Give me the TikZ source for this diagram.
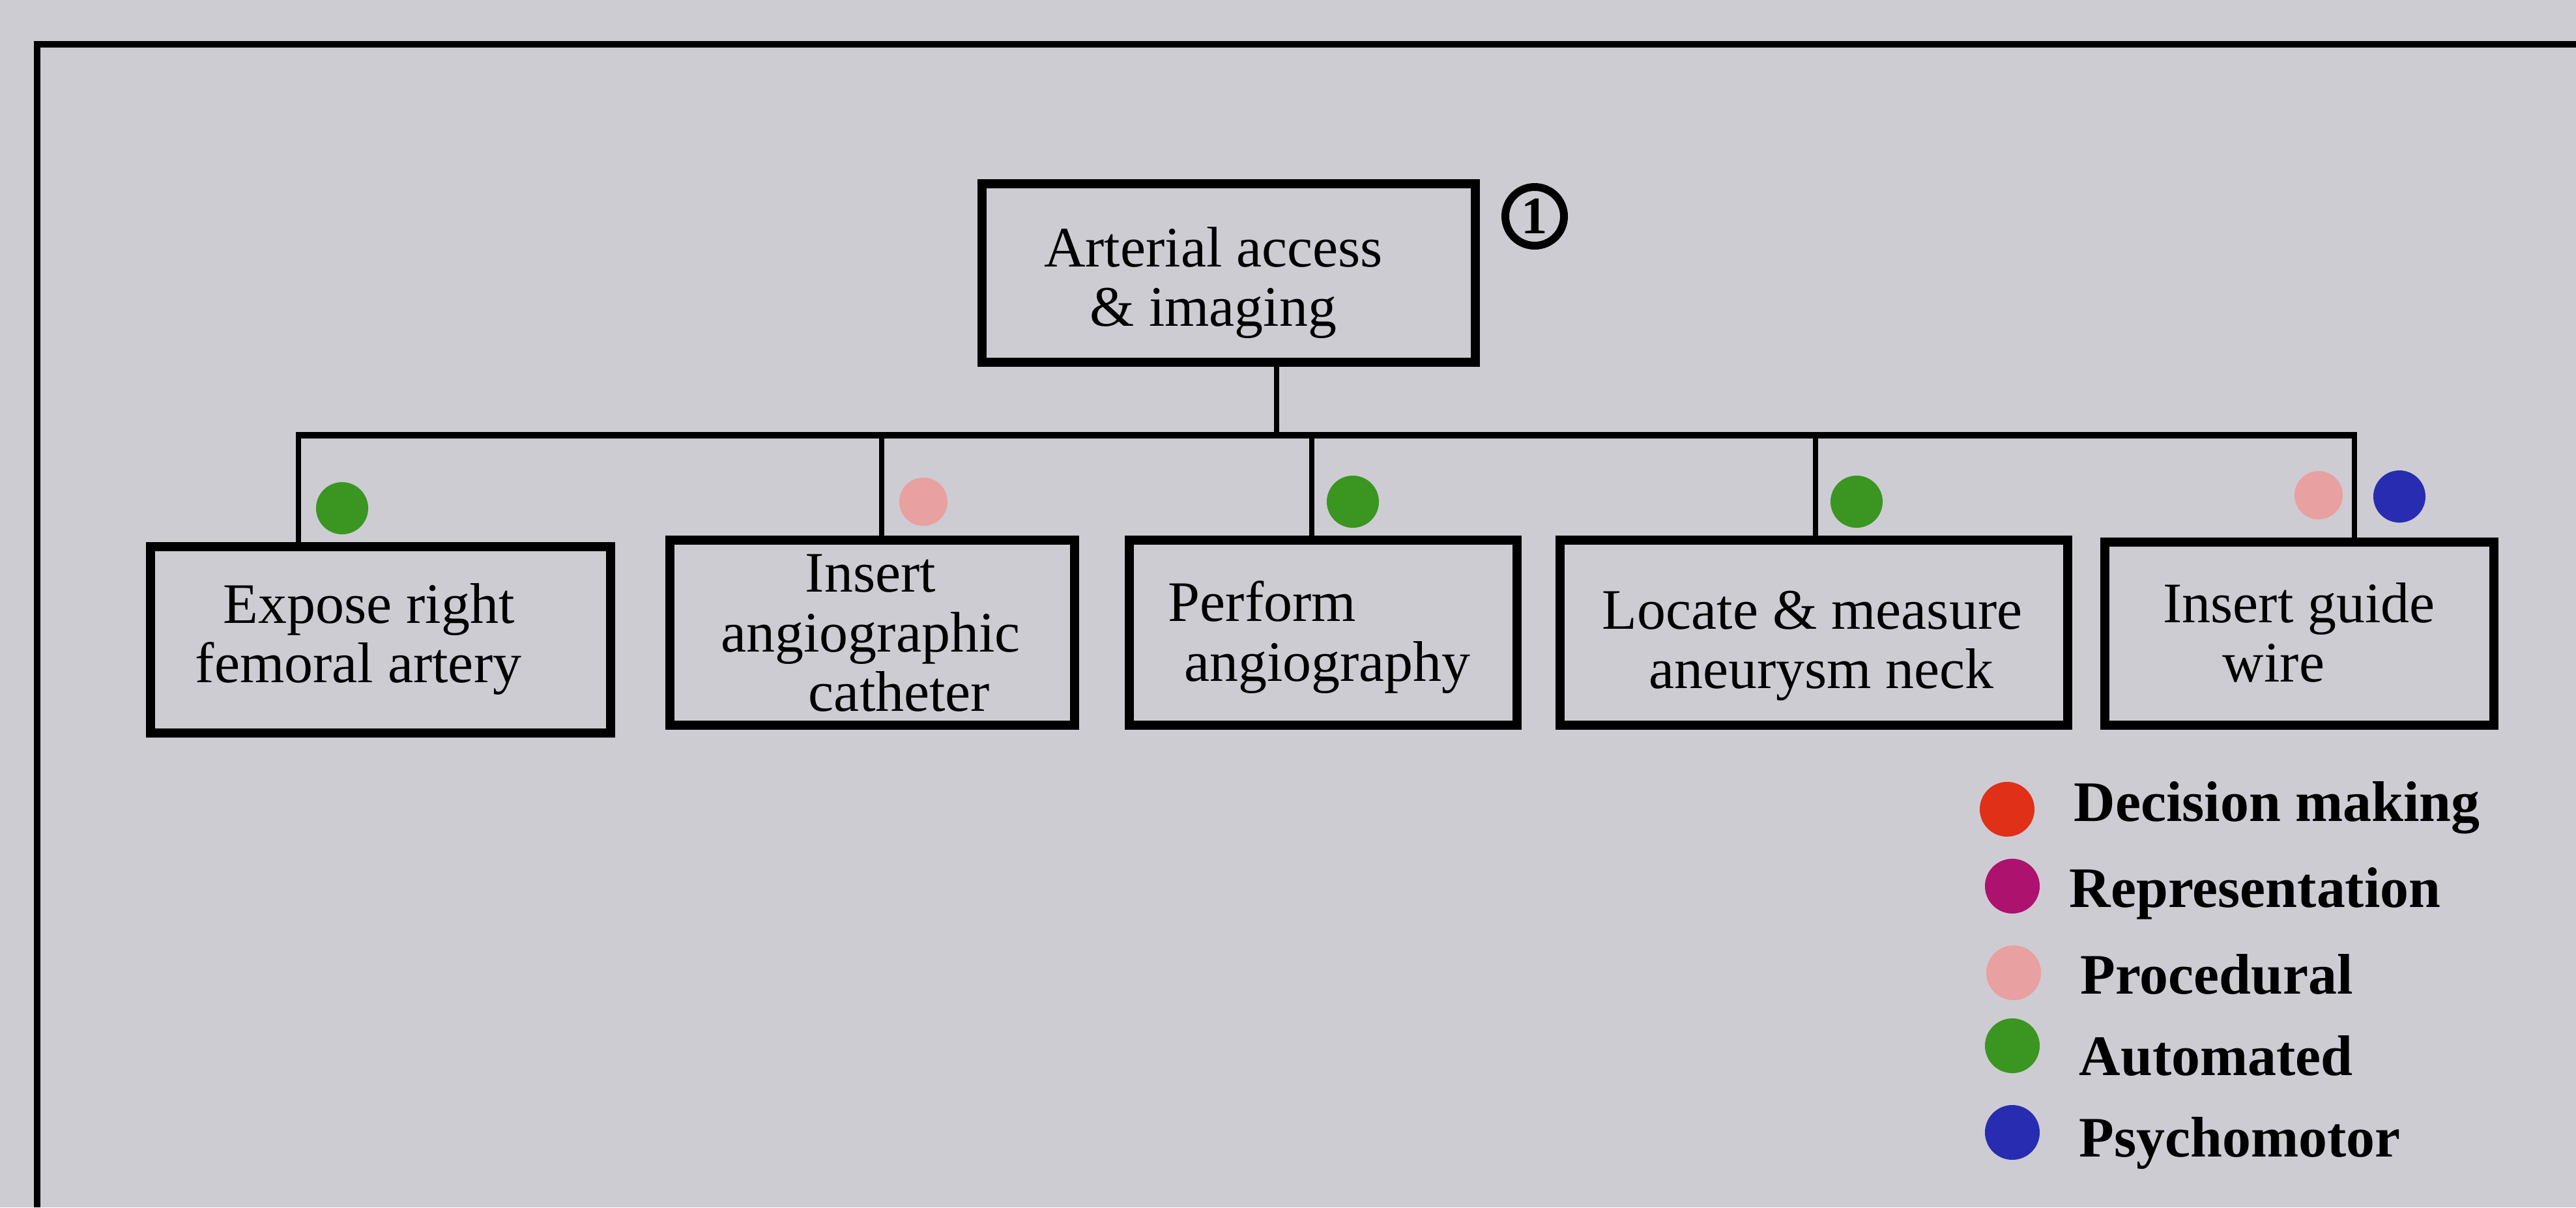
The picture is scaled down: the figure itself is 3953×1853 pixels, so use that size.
\documentclass[tikz,border=0pt]{standalone}
\usepackage{fontspec}
\setmainfont{Liberation Serif}
\usetikzlibrary{calc}
\definecolor{paper}{RGB}{205,204,211}
\definecolor{autogreen}{RGB}{58,150,32}
\definecolor{procpink}{RGB}{232,160,160}
\definecolor{psyblue}{RGB}{40,44,176}
\definecolor{decred}{RGB}{225,48,24}
\definecolor{repmag}{RGB}{172,18,110}
\newcommand{\taskfont}{\fontsize{25pt}{26pt}\selectfont}
\newcommand{\keyfont}{\bfseries\fontsize{25pt}{26pt}\selectfont}
\tikzset{
  task/.style={draw=black, line width=4pt, rectangle, inner sep=0pt},
  tasktext/.style={inner sep=0pt, align=center, font=\taskfont},
  bus/.style={line width=2.85pt},
  drop/.style={line width=2.3pt},
  dot/.style={circle, inner sep=0pt, minimum size=0.8cm},
  keytext/.style={anchor=base west, inner sep=0pt, font=\keyfont},
}
\begin{document}
\begin{tikzpicture}[x=0.01cm, y=-0.01cm]
  \useasboundingbox (0,0) rectangle (3953,1853);
  \fill[paper] (0,0) rectangle (3953,1853);

  % outer frame (top and left edges)
  \coordinate (fbl) at (57,1853);
  \coordinate (ftr) at (3953,68);
  \draw[line width=2.8pt, line join=miter] (fbl) |- (ftr);

  % top-level task
  \node[task, minimum width=7.57cm, minimum height=2.74cm] (root) at (1885.5,419) {};
  \node[tasktext] (roottxt) at (1862,434) {Arterial access\\\& imaging};
  \node[circle, draw, line width=3.4pt, minimum size=0.9cm, inner sep=0pt,
        font=\bfseries\fontsize{23pt}{23pt}\selectfont] (num) at (2355,332) {1};

  % subtasks
  \node[task, minimum width=7.06cm, minimum height=2.86cm] (b1) at (584,982) {};
  \node[task, minimum width=6.21cm, minimum height=2.84cm] (b2) at (1338.5,971) {};
  \node[task, minimum width=5.95cm, minimum height=2.84cm] (b3) at (2030.5,971) {};
  \node[task, minimum width=7.79cm, minimum height=2.84cm] (b4) at (2783.5,971) {};
  \node[task, minimum width=5.97cm, minimum height=2.81cm] (b5) at (3528.5,972.5) {};

  \node[tasktext] (t1) at (566,981) {Expose right\\femoral artery\hspace*{0.32cm}};
  \node[tasktext] (t2) at (1336,972) {Insert\\angiographic\\\hspace*{0.88cm}catheter};
  \node[tasktext] (t3) at (2037,978) {Perform\hspace*{2.0cm}\\angiography};
  \node[tasktext] (t4) at (2795,991) {Locate \& measure\hspace*{0.28cm}\\aneurysm neck};
  \node[tasktext] (t5) at (3528,971) {Insert guide\\wire\hspace*{0.78cm}};

  % tree connectors
  \coordinate (j0) at (1959,668);
  \coordinate (j1) at (458,668);
  \coordinate (j2) at (1353,668);
  \coordinate (j3) at (2013,668);
  \coordinate (j4) at (2786,668);
  \coordinate (j5) at (3613,668);
  \draw[drop] (root.south -| j0) -- (j0);
  \draw[bus, line cap=butt] ([xshift=-1.15pt]j1) -- ([xshift=1.15pt]j5);
  \draw[drop] (j1) -- (j1 |- b1.north);
  \draw[drop] (j2) -- (j2 |- b2.north);
  \draw[drop] (j3) -- (j3 |- b3.north);
  \draw[drop] (j4) -- (j4 |- b4.north);
  \draw[drop] (j5) -- (j5 |- b5.north);

  % knowledge-type markers
  \node[dot, fill=autogreen] (m1) at (525,780) {};
  \node[dot, fill=procpink, minimum size=0.74cm] (m2) at (1417,770) {};
  \node[dot, fill=autogreen] (m3) at (2076,770) {};
  \node[dot, fill=autogreen] (m4) at (2849,770) {};
  \node[dot, fill=procpink, minimum size=0.74cm] (m5a) at (3558,760) {};
  \node[dot, fill=psyblue] (m5b) at (3682,762) {};

  % key
  \node[dot, fill=decred, minimum size=0.84cm] (k1) at (3080,1242) {};
  \node[dot, fill=repmag, minimum size=0.84cm] (k2) at (3088,1360) {};
  \node[dot, fill=procpink, minimum size=0.84cm] (k3) at (3090,1493) {};
  \node[dot, fill=autogreen, minimum size=0.84cm] (k4) at (3088,1605) {};
  \node[dot, fill=psyblue, minimum size=0.84cm] (k5) at (3088,1738) {};
  \node[keytext] (kt1) at (3182,1260) {Decision making};
  \node[keytext] (kt2) at (3175,1392) {Representation};
  \node[keytext] (kt3) at (3192,1525) {Procedural};
  \node[keytext] (kt4) at (3190,1650) {Automated};
  \node[keytext] (kt5) at (3190,1775) {Psychomotor};
\end{tikzpicture}
\end{document}
